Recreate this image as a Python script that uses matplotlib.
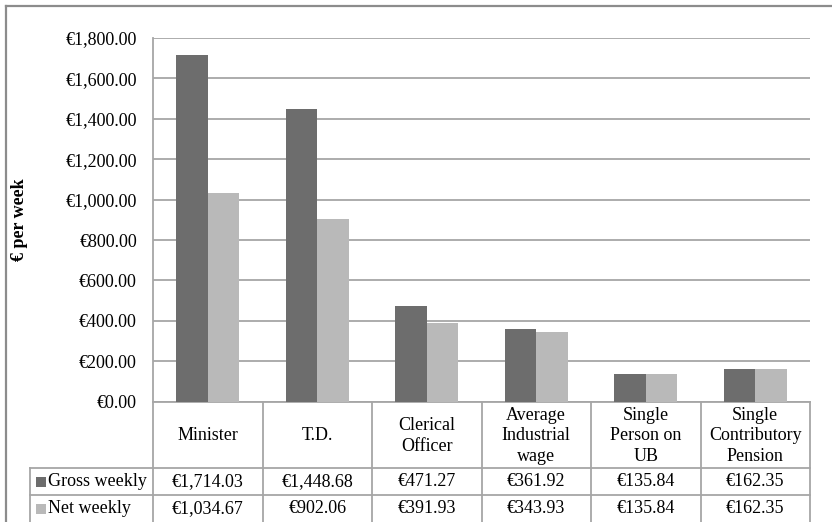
import matplotlib
matplotlib.use("Agg")
import matplotlib.pyplot as plt
from matplotlib.lines import Line2D
from matplotlib.patches import Rectangle
from matplotlib.transforms import blended_transform_factory
from matplotlib.ticker import FuncFormatter, MultipleLocator

categories = ["Minister", "T.D.", "Clerical\nOfficer", "Average\nIndustrial\nwage",
              "Single\nPerson on\nUB", "Single\nContributory\nPension"]
gross_weekly = [1714.03, 1448.68, 471.27, 361.92, 135.84, 162.35]
net_weekly = [1034.67, 902.06, 391.93, 343.93, 135.84, 162.35]
series_names = ["Gross weekly", "Net weekly"]
y_ticks_max = 1800

plt.rcParams["font.family"] = ["Liberation Serif", "DejaVu Serif"]

W, H = 832, 522
fig = plt.figure(figsize=(W / 100, H / 100), dpi=100)
fig.patch.set_facecolor("white")

def fx(px):
    return px / W

def fy(py):
    return 1 - py / H

ax_left, ax_right, ax_top, ax_bottom = 153, 810, 38, 401.7
ax = fig.add_axes([fx(ax_left), fy(ax_bottom), fx(ax_right - ax_left), (ax_bottom - ax_top) / H])

colors = ["#6d6d6d", "#b9b9b9"]
grid_c = "#a6a6a6"
bw = 1 / 3.5
xs = list(range(len(categories)))
ax.bar([x - bw / 2 for x in xs], gross_weekly, width=bw, color=colors[0], zorder=3)
ax.bar([x + bw / 2 for x in xs], net_weekly, width=bw, color=colors[1], zorder=3)

ax.set_xlim(-0.5, len(categories) - 0.5)
ax.set_ylim(0, y_ticks_max)
ax.yaxis.set_major_locator(MultipleLocator(200))
ax.yaxis.set_major_formatter(FuncFormatter(lambda v, p: "\u20ac{:,.2f}".format(v)))
ax.set_xticks([])
ax.tick_params(axis="y", length=0, pad=11.5, labelsize=13, labelcolor="#000000")
ax.grid(axis="y", color=grid_c, lw=1.3, zorder=0)
for s in ["top", "right"]:
    ax.spines[s].set_visible(False)
for s in ["left", "bottom"]:
    ax.spines[s].set_color(grid_c)
    ax.spines[s].set_linewidth(1.3)

# axis title
fig.text(fx(20), fy((ax_top + ax_bottom) / 2), "\u20ac per week", rotation=90,
         ha="center", va="center", fontsize=13, fontweight="bold")

# data table beneath the plot
bt = blended_transform_factory(ax.transData, fig.transFigure)
row_cat_top, row1_top, row2_top, row2_bot = 401.7, 468.3, 495, 530
n = len(categories)
for i in range(n + 1):
    fig.add_artist(Line2D([i - 0.5, i - 0.5], [fy(row_cat_top), fy(row2_bot)],
                          transform=bt, color=grid_c, lw=1.3, clip_on=False))
for yy in (row1_top, row2_top):
    fig.add_artist(Line2D([fx(30), fx(ax_right)], [fy(yy), fy(yy)],
                          transform=fig.transFigure, color=grid_c, lw=1.3))
fig.add_artist(Line2D([fx(30), fx(30)], [fy(row1_top), fy(row2_bot)],
                      transform=fig.transFigure, color=grid_c, lw=1.3))

for i, cat in enumerate(categories):
    fig.text(i, fy((row_cat_top + row1_top) / 2 + 1), cat, transform=bt, ha="center", va="center",
             fontsize=13, linespacing=1.25)
    fig.text(i, fy((row1_top + row2_top) / 2), "\u20ac{:,.2f}".format(gross_weekly[i]),
             transform=bt, ha="center", va="center", fontsize=13)
    fig.text(i, fy(row2_top + 13.5), "\u20ac{:,.2f}".format(net_weekly[i]),
             transform=bt, ha="center", va="center", fontsize=13)

for k, (name, top) in enumerate(zip(series_names, (row1_top, row2_top))):
    cy = top + 13.5
    fig.add_artist(Rectangle((fx(36), fy(cy + 5)), fx(10), 10 / H, transform=fig.transFigure,
                             facecolor=colors[k], edgecolor="none"))
    fig.text(fx(48), fy(cy), name, ha="left", va="center", fontsize=13)

# chart frame
frame_c = "#8c8c8c"
fig.add_artist(Line2D([fx(5.5), fx(5.5)], [0, fy(6)], transform=fig.transFigure, color=frame_c, lw=1.6))
fig.add_artist(Line2D([fx(5.5), 1], [fy(6), fy(6)], transform=fig.transFigure, color=frame_c, lw=1.6))

fig.savefig("out.png", dpi=100)
